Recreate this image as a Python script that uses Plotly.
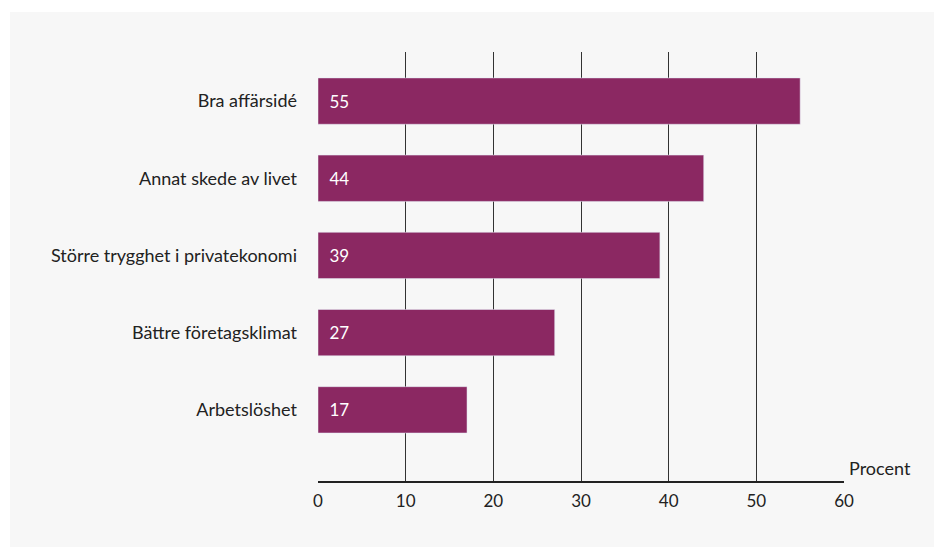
import plotly.graph_objects as go

# data, bottom to top
categories = ["Arbetslöshet", "Bättre företagsklimat", "Större trygghet i privatekonomi",
              "Annat skede av livet", "Bra affärsidé"]
values = [17, 27, 39, 44, 55]
tick_values = [0, 10, 20, 30, 40, 50, 60]
grid_values = [10, 20, 30, 40, 50]

BAR = "#8B2862"
BG = "#F7F7F7"
FONT = "Lato, 'Open Sans', sans-serif"
TXT = "#222"

fig = go.Figure(go.Bar(
    x=values, y=categories, orientation="h",
    marker_color=BAR, width=0.6,
    text=[f"\u2002{v}" for v in values],
    textposition="inside", insidetextanchor="start",
    textfont=dict(color="white", size=17, family=FONT),
    hoverinfo="skip",
))

# grey panel behind the chart
fig.add_shape(type="rect", xref="paper", yref="paper",
              x0=-0.5856, x1=1.19, y0=-0.16, y1=1.0932,
              fillcolor=BG, line_width=0, layer="below")

fig.add_annotation(x=60, y=0, xref="x", yref="paper", text="Procent",
                   showarrow=False, xanchor="left", yanchor="bottom",
                   xshift=3, yshift=0, font=dict(size=18, color=TXT, family=FONT))

fig.update_xaxes(
    range=[0, 60], tickvals=tick_values, showgrid=False, zeroline=False,
    showline=True, linecolor=TXT, linewidth=1.5,
    ticks="", ticklabelstandoff=4,
    tickfont=dict(size=17, color=TXT, family=FONT),
    minor=dict(tickvals=grid_values, showgrid=True, gridcolor="#333", gridwidth=1),
    fixedrange=True,
)
fig.update_yaxes(
    range=[-0.922, 4.636], showgrid=False, zeroline=False, showline=False,
    ticks="", ticklabelstandoff=20,
    tickfont=dict(size=18, color=TXT, family=FONT),
)
fig.update_layout(
    width=934, height=539,
    margin=dict(l=310, r=98, t=44, b=66),
    paper_bgcolor="white", plot_bgcolor="rgba(0,0,0,0)",
    showlegend=False,
    font=dict(family=FONT),
)

fig.write_html("out.html")
